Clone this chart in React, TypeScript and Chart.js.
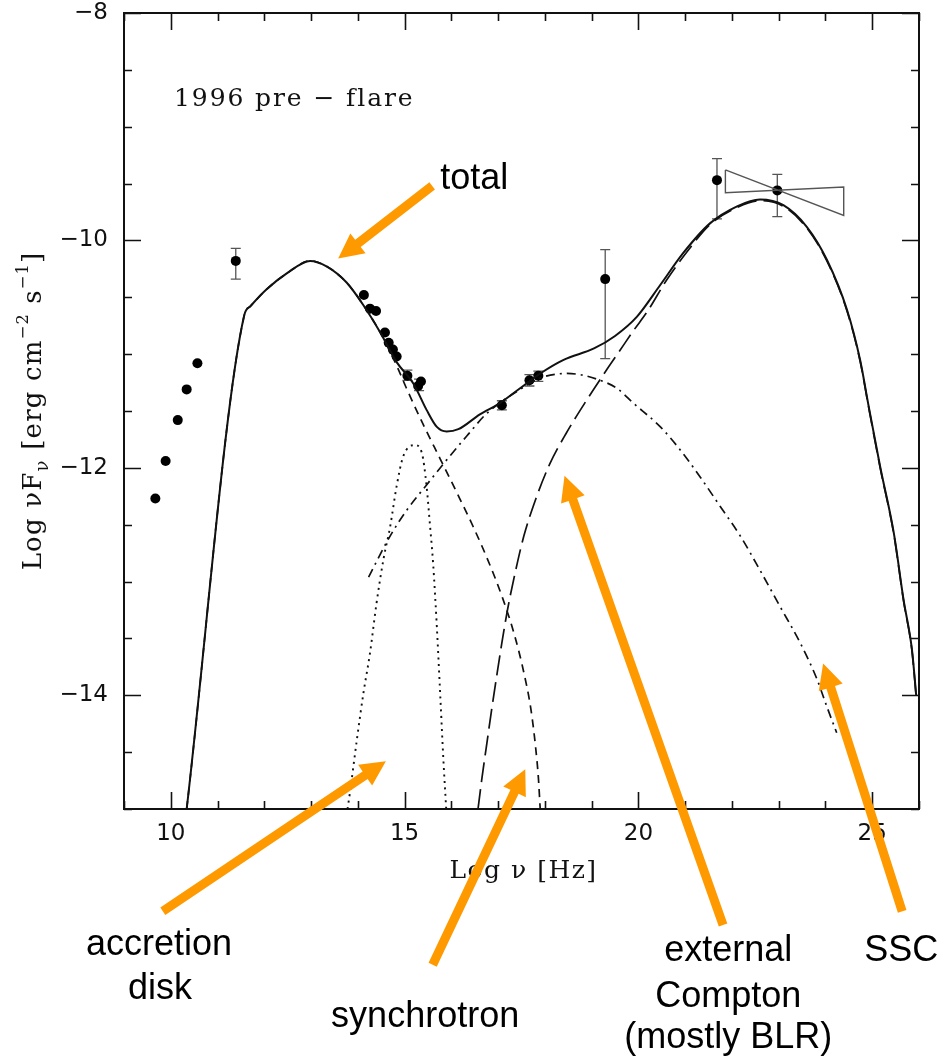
import React, { useEffect, useRef } from "react";
import { Chart, registerables } from "chart.js";

Chart.register(...registerables);

// Axis ranges and ticks (log10 frequency in Hz, log10 nuF_nu)
const X_MIN = 9;
const X_MAX = 26;
const Y_MIN = -15;
const Y_MAX = -8;
const X_TICK_LABELS = [10, 15, 20, 25];
const Y_TICK_LABELS = [-14, -12, -10, -8];
const X_MINOR_STEP = 1;
const Y_MINOR_STEP = 0.5;

// Observed fluxes
const obsNu = [9.67, 9.89, 10.15, 10.34, 10.57, 11.39, 14.13, 14.26, 14.39, 14.58, 14.66, 14.75, 14.83, 15.06, 15.29, 15.35, 17.08, 17.67, 17.86, 19.29, 21.68, 22.97];
const obsFlux = [-12.27, -11.94, -11.58, -11.31, -11.08, -10.18, -10.48, -10.6, -10.62, -10.81, -10.9, -10.96, -11.02, -11.19, -11.28, -11.24, -11.45, -11.23, -11.19, -10.34, -9.47, -9.56];

// Vertical error bars
const errNu = [11.39, 15.06, 15.31, 17.08, 17.67, 17.86, 19.29, 21.68, 22.97];
const errLow = [-10.34, -11.23, -11.32, -11.49, -11.28, -11.24, -11.04, -9.81, -9.79];
const errHigh = [-10.07, -11.14, -11.22, -11.41, -11.18, -11.15, -10.08, -9.28, -9.42];

// Gamma-ray spectral bow-tie
const bowtieNu = [21.86, 24.39, 24.39, 21.86, 21.86];
const bowtieFlux = [-9.38, -9.78, -9.53, -9.58, -9.38];

// Model components
const totalNu = [10.34, 11.57, 11.7, 12.05, 12.48, 12.98, 13.34, 13.76, 14.12, 14.48, 14.83, 15.19, 15.47, 15.69, 15.9, 16.15, 16.61, 17.04, 17.47, 17.9, 18.4, 19.05, 19.5, 19.97, 20.47, 20.96, 21.53, 22.11, 22.6, 23.1, 23.6, 24.03, 24.46, 24.74, 24.92, 25.17, 25.46, 25.67, 25.85, 25.94];
const totalFlux = [-15.0, -10.66, -10.58, -10.43, -10.29, -10.18, -10.23, -10.37, -10.57, -10.81, -11.07, -11.26, -11.49, -11.64, -11.68, -11.66, -11.53, -11.43, -11.3, -11.17, -11.05, -10.95, -10.84, -10.67, -10.39, -10.11, -9.85, -9.7, -9.64, -9.69, -9.88, -10.17, -10.61, -11.05, -11.45, -11.99, -12.57, -13.16, -13.6, -14.0];

const synchroNu = [10.34, 11.57, 11.7, 12.05, 12.48, 12.98, 13.34, 13.76, 14.12, 14.48, 14.83, 15.04, 15.4, 15.76, 16.12, 16.47, 16.8, 17.1, 17.35, 17.55, 17.7, 17.8, 17.86, 17.9];
const synchroFlux = [-15.0, -10.66, -10.58, -10.43, -10.29, -10.18, -10.23, -10.37, -10.57, -10.81, -11.1, -11.3, -11.62, -11.92, -12.22, -12.52, -12.83, -13.15, -13.47, -13.8, -14.12, -14.45, -14.72, -15.0];

const diskNu = [13.78, 13.83, 13.98, 14.12, 14.26, 14.4, 14.55, 14.69, 14.83, 14.97, 15.22, 15.37, 15.47, 15.54, 15.61, 15.69, 15.76, 15.83, 15.89];
const diskFlux = [-15.0, -14.86, -14.39, -13.98, -13.63, -13.19, -12.8, -12.52, -12.16, -11.9, -11.8, -11.87, -12.16, -12.49, -12.84, -13.4, -13.98, -14.57, -15.0];

const sscNu = [14.23, 14.69, 15.05, 15.47, 15.9, 16.33, 16.76, 17.47, 17.9, 18.47, 18.75, 19.18, 19.54, 19.89, 20.47, 20.89, 21.32, 21.75, 22.18, 22.6, 23.03, 23.46, 23.82, 24.03, 24.24];
const sscFlux = [-12.96, -12.6, -12.37, -12.15, -11.93, -11.72, -11.52, -11.31, -11.21, -11.17, -11.18, -11.23, -11.3, -11.43, -11.64, -11.84, -12.08, -12.34, -12.6, -12.9, -13.22, -13.54, -13.86, -14.1, -14.33];

const ecNu = [16.57, 16.66, 16.76, 16.86, 16.97, 17.08, 17.2, 17.36, 17.55, 17.8, 18.1, 18.45, 18.9, 19.3, 19.6, 19.9, 20.2, 20.6, 21.04, 21.53, 22.11, 22.6, 23.1, 23.6, 24.03, 24.46, 24.74, 24.92, 25.17, 25.46, 25.67, 25.85, 25.94];
const ecFlux = [-15.0, -14.71, -14.42, -14.13, -13.83, -13.54, -13.25, -12.93, -12.6, -12.28, -11.97, -11.7, -11.4, -11.15, -10.97, -10.79, -10.62, -10.35, -10.1, -9.86, -9.71, -9.65, -9.7, -9.89, -10.18, -10.62, -11.06, -11.46, -12.0, -12.58, -13.17, -13.61, -14.01];

// Annotation arrows: [tailNu, tailFlux, tipNu, tipFlux]
const arrowTotal = [15.59, -9.52, 13.58, -10.16];
const arrowDisk = [9.83, -15.9, 14.6, -14.58];
const arrowSynchro = [15.6, -16.37, 17.58, -14.65];
const arrowEC = [21.81, -16.02, 18.42, -12.07];
const arrowSSC = [25.64, -15.9, 23.95, -13.72];

// Annotation texts (centre, baseline)
const labelTexts = ["total", "accretion", "disk", "synchrotron", "external", "Compton", "(mostly BLR)", "SSC"];
const labelNu = [16.49, 9.75, 9.77, 15.44, 21.92, 21.92, 21.92, 25.62];
const labelFlux = [-9.55, -16.28, -16.67, -16.92, -16.34, -16.74, -17.1, -16.34];

const EPOCH_LABEL = "1996 pre \u2212 flare";
const EPOCH_POS = [10.07, -8.815];

const ORANGE = "#FF9900";
const INK = "#111111";

const zip = (xs: number[], ys: number[]) => xs.map((x, i) => ({ x, y: ys[i] }));

function drawArrow(ctx: CanvasRenderingContext2D, x1: number, y1: number, x2: number, y2: number) {
  const ang = Math.atan2(y2 - y1, x2 - x1);
  const len = Math.hypot(x2 - x1, y2 - y1);
  const head = 25;
  const hw = 12.5;
  const sw = 4.5;
  ctx.save();
  ctx.translate(x1, y1);
  ctx.rotate(ang);
  ctx.beginPath();
  ctx.moveTo(0, -sw);
  ctx.lineTo(len - head, -sw);
  ctx.lineTo(len - head, -hw);
  ctx.lineTo(len, 0);
  ctx.lineTo(len - head, hw);
  ctx.lineTo(len - head, sw);
  ctx.lineTo(0, sw);
  ctx.closePath();
  ctx.fill();
  ctx.restore();
}

const SERIF = "'DejaVu Serif', serif";

const framePlugin = {
  id: "frameAndTicks",
  beforeDatasetsDraw(chart: any) {
    const { ctx, chartArea: a, scales } = chart;
    const xs = scales.x;
    const ys = scales.y;
    ctx.save();
    ctx.strokeStyle = INK;
    ctx.lineWidth = 1.6;
    ctx.beginPath();
    const nY = Math.round((Y_MAX - Y_MIN) / Y_MINOR_STEP);
    for (let i = 0; i <= nY; i++) {
      const v = Y_MIN + i * Y_MINOR_STEP;
      const py = Math.round(ys.getPixelForValue(v)) + 0.5;
      const L = Y_TICK_LABELS.includes(v) ? 17 : 8;
      ctx.moveTo(a.left, py);
      ctx.lineTo(a.left + L, py);
      ctx.moveTo(a.right, py);
      ctx.lineTo(a.right - L, py);
    }
    const nX = Math.round((X_MAX - X_MIN) / X_MINOR_STEP);
    for (let i = 0; i <= nX; i++) {
      const v = X_MIN + i * X_MINOR_STEP;
      const px = Math.round(xs.getPixelForValue(v)) + 0.5;
      const L = X_TICK_LABELS.includes(v) ? 17 : 8;
      ctx.moveTo(px, a.bottom);
      ctx.lineTo(px, a.bottom - L);
      ctx.moveTo(px, a.top);
      ctx.lineTo(px, a.top + L);
    }
    ctx.stroke();

    // error bars
    ctx.strokeStyle = "#555";
    ctx.lineWidth = 1.3;
    ctx.beginPath();
    errNu.forEach((nu, i) => {
      const px = xs.getPixelForValue(nu);
      const lo = ys.getPixelForValue(errLow[i]);
      const hi = ys.getPixelForValue(errHigh[i]);
      ctx.moveTo(px, lo);
      ctx.lineTo(px, hi);
      ctx.moveTo(px - 5, lo);
      ctx.lineTo(px + 5, lo);
      ctx.moveTo(px - 5, hi);
      ctx.lineTo(px + 5, hi);
    });
    ctx.stroke();
    ctx.restore();
  },
  afterDraw(chart: any) {
    const { ctx, chartArea: a, scales } = chart;
    const xs = scales.x;
    const ys = scales.y;
    ctx.save();

    // frame
    ctx.strokeStyle = INK;
    ctx.lineWidth = 2;
    ctx.strokeRect(a.left, a.top, a.right - a.left, a.bottom - a.top);

    // epoch label
    ctx.fillStyle = INK;
    ctx.font = `25px ${SERIF}`;
    (ctx as any).letterSpacing = "1.9px";
    ctx.textAlign = "left";
    ctx.textBaseline = "alphabetic";
    ctx.fillText(EPOCH_LABEL, xs.getPixelForValue(EPOCH_POS[0]), ys.getPixelForValue(EPOCH_POS[1]));

    // x axis title
    ctx.font = `25px ${SERIF}`;
    (ctx as any).letterSpacing = "1.5px";
    ctx.textAlign = "center";
    ctx.fillText("Log \u03BD [Hz]", (a.left + a.right) / 2 + 2, a.bottom + 69);

    // y axis title, with sub/superscripts
    const base = 26;
    const segs = [
      { t: "Log \u03BDF", s: 1, dy: 0 },
      { t: "\u03BD", s: 0.7, dy: 0.28 },
      { t: " [erg cm", s: 1, dy: 0 },
      { t: "\u22122", s: 0.62, dy: -0.5 },
      { t: " s", s: 1, dy: 0 },
      { t: "\u22121", s: 0.62, dy: -0.5 },
      { t: "]", s: 1, dy: 0 },
    ];
    (ctx as any).letterSpacing = "1.2px";
    let total = 0;
    const widths = segs.map((g) => {
      ctx.font = `${base * g.s}px ${SERIF}`;
      const w = ctx.measureText(g.t).width;
      total += w;
      return w;
    });
    ctx.translate(41, (a.top + a.bottom) / 2);
    ctx.rotate(-Math.PI / 2);
    ctx.textAlign = "left";
    let cx = -total / 2;
    segs.forEach((g, i) => {
      ctx.font = `${base * g.s}px ${SERIF}`;
      ctx.fillText(g.t, cx, g.dy * base);
      cx += widths[i];
    });
    ctx.setTransform(1, 0, 0, 1, 0, 0);
    (ctx as any).letterSpacing = "0px";

    // arrows
    ctx.fillStyle = ORANGE;
    [arrowTotal, arrowDisk, arrowSynchro, arrowEC, arrowSSC].forEach((ar) => {
      drawArrow(
        ctx,
        xs.getPixelForValue(ar[0]),
        ys.getPixelForValue(ar[1]),
        xs.getPixelForValue(ar[2]),
        ys.getPixelForValue(ar[3])
      );
    });

    // component labels
    ctx.fillStyle = "#000";
    ctx.font = "36px 'Liberation Sans', Arial, sans-serif";
    ctx.textAlign = "center";
    ctx.textBaseline = "alphabetic";
    labelTexts.forEach((t, i) => {
      ctx.fillText(t, xs.getPixelForValue(labelNu[i]), ys.getPixelForValue(labelFlux[i]));
    });
    ctx.restore();
  },
};

const curve = (data: { x: number; y: number }[], dash: number[], width: number) => ({
  data,
  showLine: true,
  borderColor: INK,
  borderWidth: width,
  borderDash: dash,
  pointRadius: 0,
  cubicInterpolationMode: "monotone" as const,
  fill: false,
});

export default function App() {
  const ref = useRef<HTMLCanvasElement>(null);

  useEffect(() => {
    document.body.style.margin = "0";
    const canvas = ref.current;
    if (!canvas) return;
    const chart = new Chart(canvas, {
      type: "scatter",
      data: {
        datasets: [
          curve(zip(totalNu, totalFlux), [], 2),
          curve(zip(synchroNu, synchroFlux), [8, 6], 1.7),
          curve(zip(diskNu, diskFlux), [2, 4.5], 1.9),
          curve(zip(sscNu, sscFlux), [9, 5, 2, 5], 1.7),
          curve(zip(ecNu, ecFlux), [20, 7], 1.7),
          {
            data: zip(bowtieNu, bowtieFlux),
            showLine: true,
            borderColor: "#555",
            borderWidth: 1.4,
            pointRadius: 0,
            tension: 0,
          },
          {
            data: zip(obsNu, obsFlux),
            showLine: false,
            pointRadius: 5,
            pointBackgroundColor: "#000",
            pointBorderWidth: 0,
          },
        ] as any,
      },
      options: {
        animation: false,
        responsive: false,
        devicePixelRatio: 1,
        layout: { padding: { left: 0, top: 13, right: 20, bottom: 0 } },
        plugins: {
          legend: { display: false },
          tooltip: { enabled: false },
        },
        events: [],
        scales: {
          x: {
            type: "linear",
            min: X_MIN,
            max: X_MAX,
            grid: { display: false, drawTicks: false },
            border: { display: false },
            ticks: {
              font: { family: "'DejaVu Sans', sans-serif", size: 23 },
              color: INK,
              padding: 11,
              maxRotation: 0,
            },
            afterBuildTicks: (s: any) => {
              s.ticks = X_TICK_LABELS.map((v) => ({ value: v }));
            },
            afterFit: (s: any) => {
              s.height = 250;
              s.paddingLeft = 0;
              s.paddingRight = 0;
            },
          },
          y: {
            type: "linear",
            min: Y_MIN,
            max: Y_MAX,
            grid: { display: false, drawTicks: false },
            border: { display: false },
            ticks: {
              font: { family: "'DejaVu Sans', sans-serif", size: 23 },
              color: INK,
              padding: 16,
              callback: (v: any) => (Number(v) < 0 ? `\u2212${Math.abs(Number(v))}` : `${v}`),
            },
            afterBuildTicks: (s: any) => {
              s.ticks = Y_TICK_LABELS.map((v) => ({ value: v }));
            },
            afterFit: (s: any) => {
              s.width = 124;
              s.paddingTop = 0;
              s.paddingBottom = 0;
            },
          },
        },
      },
      plugins: [framePlugin],
    });
    return () => chart.destroy();
  }, []);

  return (
    <div style={{ width: 939, height: 1059, background: "#fff" }}>
      <canvas ref={ref} width={939} height={1059} style={{ display: "block" }} />
    </div>
  );
}
